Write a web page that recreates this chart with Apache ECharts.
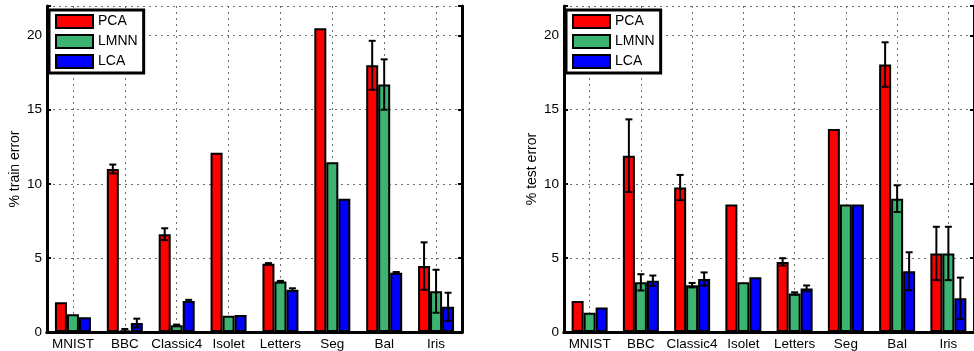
<!DOCTYPE html>
<html>
<head>
<meta charset="utf-8">
<script src="https://cdn.jsdelivr.net/npm/echarts@6/dist/echarts.min.js"></script>
<style>
html, body { margin: 0; padding: 0; background: #fff; }
#chart { width: 974px; height: 351px; }
</style>
</head>
<body>
<div id="chart"></div>
<script>
var categories = ['MNIST', 'BBC', 'Classic4', 'Isolet', 'Letters', 'Seg', 'Bal', 'Iris'];
var methods = ['PCA', 'LMNN', 'LCA'];
var colors = ['#ff0000', '#3cb371', '#0000ff'];

// % train error
var trainPCA  = [2.0, 11.0, 6.6, 12.1, 4.6, 20.5, 18.0, 4.45];
var trainLMNN = [1.2, 0.1, 0.45, 1.1, 3.4, 11.45, 16.7, 2.75];
var trainLCA  = [1.0, 0.6, 2.1, 1.15, 2.85, 9.0, 4.0, 1.7];
var trainErrPCA  = [0, 0.3, 0.4, 0, 0.05, 0, 1.65, 1.6];
var trainErrLMNN = [0, 0.1, 0.05, 0, 0.05, 0, 1.7, 1.45];
var trainErrLCA  = [0, 0.3, 0.07, 0, 0.1, 0, 0.05, 0.95];

// % test error
var testPCA  = [2.1, 11.9, 9.75, 8.6, 4.73, 13.7, 18.05, 5.3];
var testLMNN = [1.3, 3.35, 3.16, 3.35, 2.6, 8.6, 9.0, 5.3];
var testLCA  = [1.65, 3.46, 3.57, 3.7, 2.94, 8.6, 4.1, 2.27];
var testErrPCA  = [0, 2.45, 0.85, 0, 0.25, 0, 1.5, 1.8];
var testErrLMNN = [0, 0.55, 0.15, 0, 0.08, 0, 0.9, 1.8];
var testErrLCA  = [0, 0.35, 0.45, 0, 0.2, 0, 1.28, 1.4];

var yTicks = [0, 5, 10, 15, 20];
var font = 'Liberation Sans';
var fs = 13.5;
var barW = 12;

var chart = echarts.init(document.getElementById('chart'), null, { renderer: 'canvas' });

var gridLine = { show: true, lineStyle: { color: '#707070', width: 1, type: [2, 4] } };

function xAxes(gridIndex) {
  return [{
    type: 'category', gridIndex: gridIndex, position: 'bottom', data: categories,
    axisLine: { lineStyle: { color: '#000', width: 3 } },
    axisTick: { inside: true, alignWithLabel: true, length: 4, lineStyle: { color: '#000', width: 2 } },
    axisLabel: { color: '#000', fontSize: fs, fontFamily: font, margin: 5, interval: 0 },
    splitLine: Object.assign({ alignWithLabel: true }, gridLine)
  }, {
    type: 'category', gridIndex: gridIndex, position: 'top', data: categories,
    axisLine: { lineStyle: { color: '#000', width: 3 } },
    axisTick: { inside: true, alignWithLabel: true, length: 4, lineStyle: { color: '#000', width: 2 } },
    axisLabel: { show: false },
    splitLine: { show: false }
  }];
}

function yAxes(gridIndex, name) {
  var common = {
    type: 'value', gridIndex: gridIndex, min: 0, max: 22, interval: 5,
    axisLine: { show: true, lineStyle: { color: '#000', width: 3 } },
    axisTick: { show: true, inside: true, length: 4, lineStyle: { color: '#000', width: 2 } }
  };
  return [Object.assign({}, common, {
    position: 'left', name: name, nameLocation: 'middle', nameGap: 25,
    nameTextStyle: { color: '#000', fontSize: 14, fontFamily: font },
    axisLabel: {
      color: '#000', fontSize: fs, fontFamily: font, margin: 5,
      formatter: function (v) { return yTicks.indexOf(v) >= 0 ? String(v) : ''; }
    },
    splitLine: gridLine
  }), Object.assign({}, common, {
    position: 'right', axisLabel: { show: false }, splitLine: { show: false }
  })];
}

function errRender(offset) {
  return function (params, api) {
    var err = api.value(2);
    if (!err) return null;
    var cat = api.value(0), val = api.value(1);
    var top = api.coord([cat, val + err]);
    var bot = api.coord([cat, val - err]);
    var x = top[0] + offset;
    var cap = 3.5;
    var st = { stroke: '#000', lineWidth: 2 };
    return {
      type: 'group', children: [
        { type: 'line', shape: { x1: x, y1: top[1], x2: x, y2: bot[1] }, style: st },
        { type: 'line', shape: { x1: x - cap, y1: top[1], x2: x + cap, y2: top[1] }, style: st },
        { type: 'line', shape: { x1: x - cap, y1: bot[1], x2: x + cap, y2: bot[1] }, style: st }
      ]
    };
  };
}

function panelSeries(xi, yi, vals, errs) {
  var out = [];
  vals.forEach(function (v, k) {
    out.push({
      type: 'bar', name: methods[k], xAxisIndex: xi, yAxisIndex: yi,
      data: v, barWidth: barW, barGap: '0%',
      itemStyle: { color: colors[k], borderColor: '#000', borderWidth: 2 },
      silent: true
    });
  });
  errs.forEach(function (e, k) {
    out.push({
      type: 'custom', xAxisIndex: xi, yAxisIndex: yi, z: 5, silent: true,
      renderItem: errRender((k - 1) * barW),
      data: vals[k].map(function (v, i) { return [i, v, e[i]]; })
    });
  });
  return out;
}

function legend(left) {
  return {
    orient: 'vertical', left: left, top: 10, data: methods, selectedMode: false,
    icon: 'rect', itemWidth: 37, itemHeight: 13, itemGap: 5,
    padding: [4, 6, 4, 6], borderColor: '#000', borderWidth: 3, borderRadius: 0,
    backgroundColor: '#fff',
    textStyle: { color: '#000', fontSize: 14, fontFamily: font }
  };
}

var option = {
  backgroundColor: '#fff',
  animation: false,
  legend: [legend(49), legend(566)],
  grid: [
    { left: 47, top: 6, width: 415, height: 326 },
    { left: 564, top: 6, width: 415, height: 326 }
  ],
  xAxis: xAxes(0).concat(xAxes(1)),
  yAxis: yAxes(0, '% train error').concat(yAxes(1, '% test error')),
  series: panelSeries(0, 0, [trainPCA, trainLMNN, trainLCA], [trainErrPCA, trainErrLMNN, trainErrLCA])
    .concat(panelSeries(2, 2, [testPCA, testLMNN, testLCA], [testErrPCA, testErrLMNN, testErrLCA]))
};

chart.setOption(option);
</script>
</body>
</html>
